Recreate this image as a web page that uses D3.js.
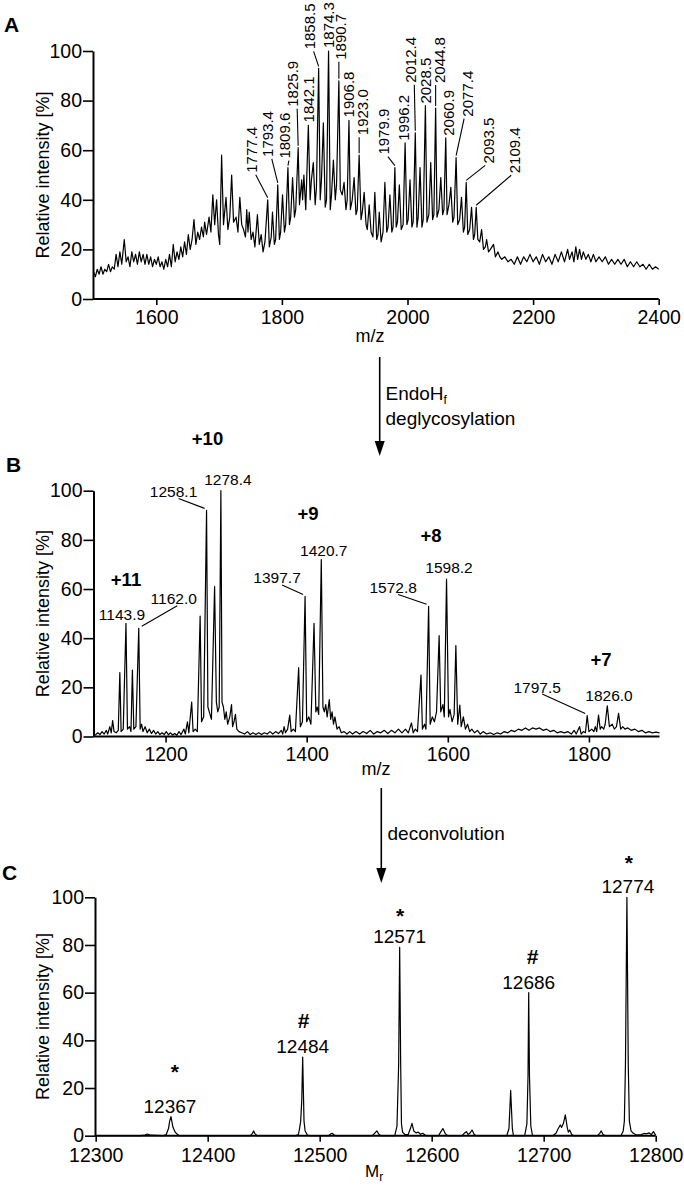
<!DOCTYPE html>
<html><head><meta charset="utf-8">
<script src="https://cdn.jsdelivr.net/npm/d3@7"></script>
<style>
html,body{margin:0;padding:0;background:#fff;}
svg{display:block;font-family:"Liberation Sans",Arial,Helvetica,sans-serif;}
</style></head><body>
<svg id="chart" width="684" height="1199"></svg>
<script>
// ---------------- DATA ----------------
const yTicks = [0, 20, 40, 60, 80, 100];
const xTicksA = [1600, 1800, 2000, 2200, 2400];
const xTicksB = [1200, 1400, 1600, 1800];
const xTicksC = [12300, 12400, 12500, 12600, 12700, 12800];

// Panel A: glycosylated protein, [m/z, relative intensity %]
const spectrumA = [
[1500,11],[1503,9],[1506,12],[1509,10],[1512,13],[1515,10],[1518,12],[1521,11],[1524,14],[1527,11],[1530,13],[1533,12],[1536,18],[1539,13],[1542,19],[1545,14],[1549,24],[1552,15],[1555,17],[1558,13],[1561,19],[1564,15],[1567,18],[1570,14],[1573,19],[1576,15],[1579,18],[1582,14],[1585,18],[1588,14],[1591,17],[1594,13],[1597,16],[1600,14],[1603,17],[1606,13],[1609,15],[1612,12],[1615,16],[1618,13],[1621,18],[1624,13],[1627,22],[1630,15],[1633,19],[1636,16],[1639,21],[1642,17],[1645,23],[1648,18],[1651,26],[1654,20],[1657,24],[1660,32],[1663,22],[1666,27],[1669,24],[1672,29],[1675,25],[1677,31],[1680,26],[1684,33],[1687,27],[1690,42],[1693,30],[1696,40],[1699,26],[1701,22],[1704,58],[1707,30],[1711,41],[1714,28],[1717,33],[1720,50],[1723,31],[1727,33],[1730,27],[1733,41],[1736,30],[1739,28],[1742,25],[1744,36],[1746,27],[1748,35],[1751,24],[1754,27],[1757,21],[1761,34],[1764,22],[1767,26],[1770,19],[1773,23],[1777.4,40],[1780,21],[1783,25],[1785,35],[1788,22],[1790,24],[1793.4,46],[1796,24],[1798,27],[1801,42],[1804,27],[1806,30],[1809.6,53],[1812,30],[1814,33],[1817,49],[1820,33],[1822,36],[1825.9,61],[1828,38],[1831.5,48],[1833,40],[1835,50],[1838,36],[1842.1,70],[1845,40],[1847,48],[1850,55],[1853,38],[1855,45],[1858.5,93],[1861,40],[1863,48],[1866,71],[1869,37],[1871,40],[1874.3,100],[1877,36],[1879,42],[1882,56],[1885,40],[1887,46],[1890.7,88],[1893,44],[1896,42],[1899,47],[1902,36],[1904,40],[1906.8,72],[1909,36],[1912,40],[1915,49],[1918,34],[1920,36],[1923,58],[1926,32],[1928,35],[1931,43],[1934,30],[1936,28],[1939,38],[1942,27],[1945,25],[1948,43],[1951,24],[1953,26],[1955,35],[1958,23],[1961,27],[1964,47],[1967,27],[1969,29],[1972,42],[1975,27],[1977,29],[1979.9,53],[1982,29],[1984,31],[1987,46],[1990,28],[1993,30],[1996.2,63],[1999,30],[2001,32],[2004,48],[2007,29],[2009,31],[2012.4,67],[2015,29],[2017,33],[2020,53],[2023,29],[2025,32],[2028.5,78],[2031,31],[2034,34],[2037,55],[2040,32],[2042,34],[2044.8,77],[2047,33],[2050,36],[2053,49],[2056,34],[2058,36],[2060.9,65],[2063,34],[2066,38],[2069,45],[2072,31],[2074,33],[2077.4,57],[2080,30],[2083,32],[2086,41],[2089,27],[2091,29],[2093.5,47],[2096,26],[2099,28],[2102,37],[2105,24],[2107,26],[2109.4,37],[2112,24],[2115,23],[2118,28],[2121,20],[2124,21],[2126,24],[2129,19],[2132,20],[2137,22],[2140,17],[2144,19],[2147,17],[2150,16],[2155,17],[2160,15],[2165,16],[2170,14],[2175,17],[2180,14],[2185,17],[2190,15],[2195,18],[2200,15],[2205,17],[2210,14],[2215,18],[2220,15],[2225,17],[2230,14],[2235,18],[2240,15],[2245,19],[2250,15],[2255,20],[2258,16],[2262,19],[2265,15],[2268,21],[2271,16],[2274,20],[2277,16],[2280,19],[2284,16],[2288,18],[2292,15],[2296,18],[2300,15],[2305,17],[2310,15],[2315,17],[2320,14],[2325,16],[2330,14],[2335,16],[2340,14],[2345,16],[2350,13],[2355,15],[2360,13],[2365,15],[2370,13],[2375,14],[2380,12],[2385,14],[2390,12],[2395,13],[2400,12]
];
const peakLabelsA = [1777.4,1793.4,1809.6,1825.9,1842.1,1858.5,1874.3,1890.7,1906.8,1923.0,1979.9,1996.2,2012.4,2028.5,2044.8,2060.9,2077.4,2093.5,2109.4];

// Panel B: after EndoHf deglycosylation, [m/z, relative intensity %]
const spectrumB = [
[1100,0.5],[1104,1.5],[1107,0.8],[1110,2],[1113,1],[1116,2.5],[1118,1],[1121,4],[1123,1.5],[1125,6.5],[1127,2],[1130,1.5],[1133,2.5],[1135.2,26],[1137,2],[1140,3],[1143.9,46],[1146,3],[1149,4],[1151,2],[1153,27],[1155,3],[1158,4],[1162.0,44],[1164,3],[1166,5],[1168,2],[1171,4],[1174,1.5],[1177,3],[1180,1.2],[1183,2.5],[1186,1],[1189,2],[1192,0.8],[1195,1.5],[1198,0.8],[1201,2],[1204,0.7],[1207,1.5],[1210,0.6],[1213,1.2],[1216,0.5],[1219,2],[1222,0.8],[1226,3],[1228,1],[1231,6],[1233,1.5],[1237,14],[1239,2],[1242,3],[1245,2],[1249,49],[1251,6],[1254,8],[1258.1,92],[1260,12],[1262,10],[1265,7],[1269.5,61],[1272,14],[1274,10],[1276,12],[1278.4,100],[1280,14],[1282,12],[1284,7],[1286,10],[1288,5],[1291,8],[1293.5,13],[1295,4],[1297,6],[1299,9],[1301,3],[1304,2],[1308,1.5],[1312,1],[1316,2],[1320,0.8],[1324,1.5],[1328,0.8],[1332,1.5],[1336,0.8],[1340,1.5],[1344,1],[1348,2],[1352,1],[1356,2],[1360,1.2],[1364,2.5],[1366,1],[1368,4],[1370,1.5],[1373,3],[1376,8.7],[1378,2],[1381,3],[1384,2],[1388.6,28],[1391,4],[1394,6],[1397.7,57],[1400,6],[1403,8],[1406,5],[1410.4,46],[1413,10],[1415,12],[1417,9],[1420.7,72],[1423,12],[1425,10],[1427,13],[1429,8],[1432,15],[1434,7],[1436,10],[1438,5],[1440,8],[1443,3],[1446,4],[1449,1.5],[1453,2],[1457,1],[1461,2],[1465,1],[1470,2],[1475,1],[1480,2],[1485,1.2],[1490,2.5],[1495,1],[1500,2],[1505,1.5],[1510,2.5],[1515,1.2],[1520,2.5],[1525,1.5],[1530,3],[1535,1.5],[1540,3],[1544,1.5],[1548.5,5.5],[1551,1.5],[1554,3],[1557,2],[1562,25],[1564,3],[1567,5],[1569,3],[1572.8,53],[1575,5],[1578,8],[1581,6],[1584,10],[1587.7,41],[1590,10],[1593,13],[1595,8],[1598.2,64],[1601,8],[1603,11],[1606,6],[1609,9],[1611.4,37],[1614,5],[1617,12.8],[1619,4],[1622,8],[1625,3],[1628,5],[1631,2],[1634,3],[1638,1.5],[1642,2.5],[1646,1],[1650,2],[1655,1],[1660,1.5],[1665,0.8],[1670,1.5],[1675,1],[1680,2],[1685,1.5],[1690,2.5],[1695,2],[1700,3],[1705,2.5],[1710,3.5],[1715,2.5],[1720,3.5],[1725,3],[1730,3.5],[1735,2.5],[1740,3],[1745,2],[1750,2.5],[1755,1.5],[1760,2],[1765,1.5],[1770,2],[1775,1],[1779,2.5],[1782,1],[1786.7,4],[1789,1],[1792,2],[1795,1.5],[1797.5,8.5],[1800,2],[1804,3],[1807,2],[1809,4],[1811,2],[1813.6,8.7],[1816,3],[1818,4],[1821,3],[1823,5],[1826.0,12.5],[1829,4],[1833,5],[1836,3],[1839,4],[1842,9.4],[1845,3],[1848,4],[1851,3],[1855,3.5],[1860,2.5],[1865,3],[1870,2],[1875,2.5],[1880,1.5],[1885,2],[1890,1.5],[1895,1.8],[1900,1.5]
];
const peakLabelsB = [1143.9,1162.0,1258.1,1278.4,1397.7,1420.7,1572.8,1598.2,1797.5,1826.0];
const chargeStatesB = ["+11","+10","+9","+8","+7"];

// Panel C: deconvoluted, [Mr, relative intensity %]
const spectrumC = [
[12300,0],[12340,0],[12344,0.3],[12346,0.7],[12349,0.2],[12360,0],[12363,0.5],[12365,3],[12366,6],[12367.2,8],[12368,6],[12369,3.5],[12370,2.5],[12371,1.5],[12373,0.5],[12375,0],[12438,0],[12440,1],[12441,2],[12442,1],[12444,0],[12478,0],[12481,0.5],[12482,3],[12483,6],[12484,15],[12484.8,33],[12485.6,15],[12486,6],[12487,2],[12489,0.3],[12491,0],[12508,0],[12510,0.8],[12511,1],[12513,0.3],[12515,0],[12547,0],[12549,1],[12551,2],[12553,0.5],[12555,0],[12567,0],[12569,4],[12570.5,30],[12571.4,79],[12572.3,30],[12573,5],[12574,1.5],[12576,0.5],[12579,0.5],[12581,3],[12582.4,5.2],[12584,2],[12586,1.2],[12588,1.5],[12590,0.6],[12592,1],[12594,0.3],[12596,0],[12606,0],[12608,1.5],[12610,3],[12612,1],[12614,0],[12627,0],[12629,1],[12631,1.7],[12632.5,0.5],[12634,1],[12636,2.4],[12638,0.5],[12640,0],[12667,0],[12669,3],[12670.5,19],[12672,3],[12673,0],[12683,0],[12685,5],[12686,25],[12686.6,60],[12687.3,25],[12688.5,4],[12690,0],[12708,0],[12711,1],[12713,3],[12714.8,4.5],[12716,3.5],[12717.5,5],[12719.3,8.7],[12721,3.5],[12722,1.5],[12723.2,2.4],[12725,0.5],[12727,0],[12748,0],[12750,1],[12751.4,2],[12753,0.5],[12755,0],[12769,0],[12771,2],[12772,6],[12773,30],[12774.3,100],[12775.5,30],[12776.5,6],[12778,2],[12780,1],[12783,0.3],[12787,0.5],[12790,1],[12792,0.8],[12794,1.2],[12796,0.5],[12798,1.7],[12800,0.2]
];
const massLabelsC = [12367, 12484, 12571, 12686, 12774];
const massMarksC = ["*", "#", "*", "#", "*"];

// ---------------- DRAWING ----------------
const svg = d3.select("#chart");
const FONT_TICK = 19.5;

// highest point of a spectrum within +-w of a labelled position
function peakAt(spec, v, w) {
  const near = spec.filter(d => Math.abs(d[0] - v) <= w);
  if (near.length) return near.reduce((a, b) => b[1] > a[1] ? b : a);
  return spec.reduce((a, b) => Math.abs(b[0] - v) < Math.abs(a[0] - v) ? b : a);
}

function drawPanel(opt) {
  const g = svg.append("g");
  const { x, y, xTicks, yAxisX } = opt;
  const xa = g.append("g").attr("transform", `translate(0,${y(0)})`)
    .call(d3.axisBottom(x).tickValues(xTicks).tickSize(6).tickPadding(opt.xPad || 5)
      .tickSizeOuter(0).tickFormat(d3.format("d")));
  xa.select(".domain").attr("d", `M${yAxisX},0H${x.range()[1]}`);
  const ya = g.append("g").attr("transform", `translate(${yAxisX},0)`)
    .call(d3.axisLeft(y).tickValues(yTicks).tickSize(10).tickPadding(1).tickSizeOuter(0));
  [xa, ya].forEach(a => {
    a.select(".domain").attr("stroke", "#000").attr("stroke-width", 2);
    a.selectAll(".tick line").attr("stroke", "#000").attr("stroke-width", 1.6);
    a.selectAll(".tick text").attr("fill", "#000").style("font-size", FONT_TICK + "px")
      .style("font-family", '"Liberation Sans",Arial,sans-serif');
  });
  const yMid = (y(0) + y(100)) / 2;
  g.append("text").attr("transform", `translate(49,${yMid}) rotate(-90)`)
    .attr("text-anchor", "middle").style("font-size", "18px").text("Relative intensity [%]");
  const line = d3.line().x(d => x(d[0])).y(d => y(d[1]));
  g.append("path").datum(opt.spec).attr("d", line).attr("fill", "none")
    .attr("stroke", "#000").attr("stroke-width", 1.2).attr("stroke-linejoin", "round");
  g.append("text").attr("x", opt.letterPos[0]).attr("y", opt.letterPos[1])
    .style("font-size", "21px").style("font-weight", "bold").text(opt.letter);
  return g;
}

// ---- Panel A ----
const xA = d3.scaleLinear([1500, 2400], [93.5, 658.7]);
const yA = d3.scaleLinear([0, 100], [299, 51]);
const gA = drawPanel({ x: xA, y: yA, xTicks: xTicksA, yAxisX: 93, spec: spectrumA, letter: "A", letterPos: [4, 31.5] });
gA.append("text").attr("x", 370).attr("y", 342).attr("text-anchor", "middle").style("font-size", "18px").text("m/z");

// label offsets (px) from each labelled peak top: [dx, dy of text bottom]
const layA = [[-16,-27],[-10,-28],[-3,-9],[-5,-41],[0,-3],[-9,-19],[0,-3],[2,-21],[0,-3],[4,-20],[-11,-13],[-1,-2],[-5,-50],[0,-2],[4,-25],[3,-2],[12,-41],[23,-19],[39,-34]];
peakLabelsA.forEach((mz, i) => {
  const p = peakAt(spectrumA, mz, 0.6);
  const px = xA(p[0]), py = yA(p[1]);
  const [dx, dy] = layA[i];
  const ax = px + dx, ay = py + dy;
  gA.append("text").attr("transform", `translate(${ax},${ay}) rotate(-90)`)
    .attr("dy", "0.35em").style("font-size", "15px").text(mz.toFixed(1));
  if (dy < -4) {
    const sx = dx < -2 ? ax + 4 : (dx > 2 ? ax - 4 : px);
    gA.append("line").attr("x1", sx).attr("y1", ay + 2).attr("x2", px).attr("y2", py - 2)
      .attr("stroke", "#000").attr("stroke-width", 1.1);
  }
});

// ---- Panel B ----
const xB = d3.scaleLinear([1100, 1900], [95, 659.5]);
const yB = d3.scaleLinear([0, 100], [736.5, 490.7]);
const gB = drawPanel({ x: xB, y: yB, xTicks: xTicksB, yAxisX: 93.5, spec: spectrumB, letter: "B", letterPos: [6, 471.7] });
gB.append("text").attr("x", 376).attr("y", 775).attr("text-anchor", "middle").style("font-size", "18px").text("m/z");

const layB = [[-4,-3.5],[35,-24],[-33,-13.4],[7,-5.7],[-28,-13],[2.5,-3.6],[-35.5,-13.3],[2.5,-6],[-50,-23],[1.7,-4.8]];
peakLabelsB.forEach((mz, i) => {
  const p = peakAt(spectrumB, mz, 0.6);
  const px = xB(p[0]), py = yB(p[1]);
  const [dx, dy] = layB[i];
  const lx = px + dx, ly = py + dy;
  gB.append("text").attr("x", lx).attr("y", ly).attr("text-anchor", "middle")
    .style("font-size", "15.5px").text(mz.toFixed(1));
  if (Math.abs(dx) > 10) {
    gB.append("line")
      .attr("x1", lx + (dx > 0 ? 3.5 : 5)).attr("y1", ly + 1.5)
      .attr("x2", px + (dx > 0 ? 3 : -2)).attr("y2", py - 2)
      .attr("stroke", "#000").attr("stroke-width", 1.1);
  }
});
const layCharge = [[126, 586], [207.5, 445], [308, 520], [431, 541.5], [601, 666]];
chargeStatesB.forEach((z, i) => {
  gB.append("text").attr("x", layCharge[i][0]).attr("y", layCharge[i][1]).attr("text-anchor", "middle")
    .style("font-size", "18.5px").style("font-weight", "bold").text(z);
});

// ---- Panel C ----
const xC = d3.scaleLinear([12300, 12800], [95.7, 655.7]);
const yC = d3.scaleLinear([0, 100], [1135.7, 897.3]);
const gC = drawPanel({ x: xC, y: yC, xTicks: xTicksC, yAxisX: 95, xPad: 6, spec: spectrumC, letter: "C", letterPos: [2, 880] });
const mr = gC.append("text").attr("x", 365).attr("y", 1177).style("font-size", "17px");
mr.append("tspan").text("M");
mr.append("tspan").attr("dy", 4).style("font-size", "12px").text("r");

const markDx = [4, 1, 0.5, 4, 2];
const markDy = [-33.5, -25, -20, -25, -23];
const labDx = [-1, 0, 0, 0, 1];
massLabelsC.forEach((m, i) => {
  const p = peakAt(spectrumC, m, 2);
  const px = xC(p[0]), py = yC(p[1]);
  const ly = py - 4;
  gC.append("text").attr("x", px + labDx[i]).attr("y", ly).attr("text-anchor", "middle")
    .style("font-size", "19px").text(m);
  gC.append("text").attr("x", px + markDx[i]).attr("y", ly + markDy[i]).attr("text-anchor", "middle")
    .style("font-size", "21px").style("font-weight", "bold").text(massMarksC[i]);
});

// ---- Process arrows ----
function arrow(x, y1, y2) {
  svg.append("line").attr("x1", x).attr("y1", y1).attr("x2", x).attr("y2", y2 - 12)
    .attr("stroke", "#000").attr("stroke-width", 1.6);
  svg.append("path").attr("d", `M${x - 5},${y2 - 15}L${x + 5},${y2 - 15}L${x},${y2}Z`).attr("fill", "#000");
}
arrow(379.7, 357, 456);
const t1 = svg.append("text").attr("x", 385.5).attr("y", 400).style("font-size", "19px");
t1.append("tspan").text("EndoH");
t1.append("tspan").attr("dy", 4).style("font-size", "12px").text("f");
svg.append("text").attr("x", 385.5).attr("y", 425).style("font-size", "19px").text("deglycosylation");
arrow(381.3, 788, 883);
svg.append("text").attr("x", 387.5).attr("y", 840).style("font-size", "19px").text("deconvolution");
</script>
</body></html>
